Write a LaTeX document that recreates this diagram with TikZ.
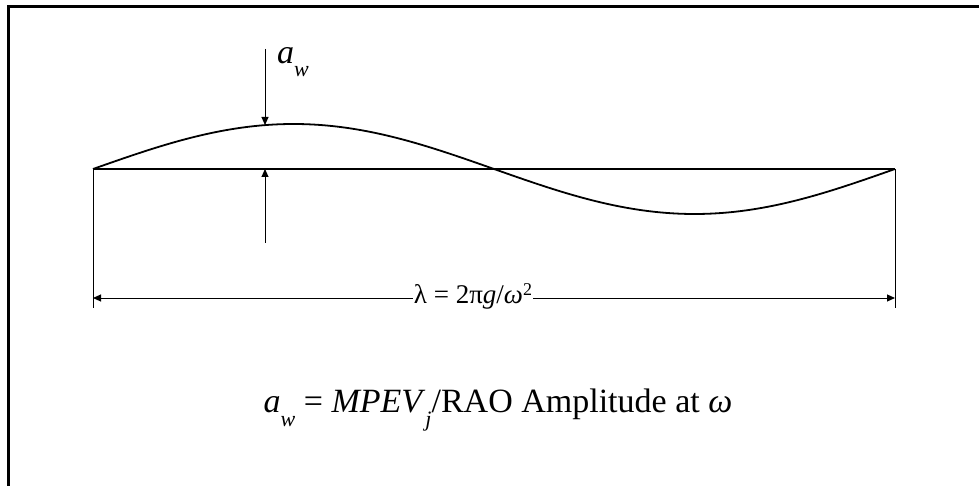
\documentclass[tikz,border=0pt]{standalone}
\usepackage{fontspec}
\setmainfont{Liberation Serif}
\usetikzlibrary{arrows.meta}
\newcommand{\lowsub}[1]{\raisebox{-0.4em}{\fontsize{22}{24}\selectfont\textit{#1}}}
\begin{document}
\begin{tikzpicture}[x=1pt,y=-1pt,
  thinln/.style={line width=1pt},
  tipln/.style={line width=1pt,-{Triangle[length=8pt,width=7pt]}},
  lbl/.style={inner sep=1pt, fill=white, font=\fontsize{34}{38}\selectfont},
  lamlbl/.style={inner sep=1pt, fill=white, font=\fontsize{27}{30}\selectfont}]
\useasboundingbox (0,0) rectangle (979,486);
% frame (only top and left edges visible)
\draw[line width=3pt] (8.5,486) -- (8.5,6.5) -- (979,6.5);
% still water line
\coordinate (L) at (93,169);
\coordinate (R) at (895,169);
\draw[line width=1.6pt] (L) -- (R);
% wave
\draw[line width=1.8pt, domain=0:360, samples=120, smooth] plot ({93+\x/360*802},{169-45*sin(\x)});
% amplitude arrows
\coordinate (dtop) at (265,49);
\coordinate (crest) at (265,125);
\coordinate (ubot) at (265,243);
\coordinate (ubase) at (265,169);
\draw[tipln] (dtop) -- (crest);
\draw[tipln] (ubot) -- (ubase);
\node[lbl, anchor=west] (aw) at (276,62) {\textit{a}\lowsub{w}};
% wavelength dimension
\coordinate (Lb) at (93,308);
\coordinate (Rb) at (895,308);
\draw[thinln] (L) -- (Lb);
\draw[thinln] (R) -- (Rb);
\node[lamlbl] (lam) at (473,296) {λ = 2π\textit{g}/\textit{ω}\raisebox{0.3em}{\fontsize{18}{20}\selectfont 2}};
\coordinate (Ld) at (93,298);
\coordinate (Rd) at (895,298);
\draw[tipln] (lam.west |- Ld) -- (Ld);
\draw[tipln] (lam.east |- Rd) -- (Rd);
% formula
\node[lbl] (eq) at (498,410) {\textit{a}\lowsub{w} = \textit{MPEV}\lowsub{j}/RAO Amplitude at \textit{ω}};
\end{tikzpicture}
\end{document}
